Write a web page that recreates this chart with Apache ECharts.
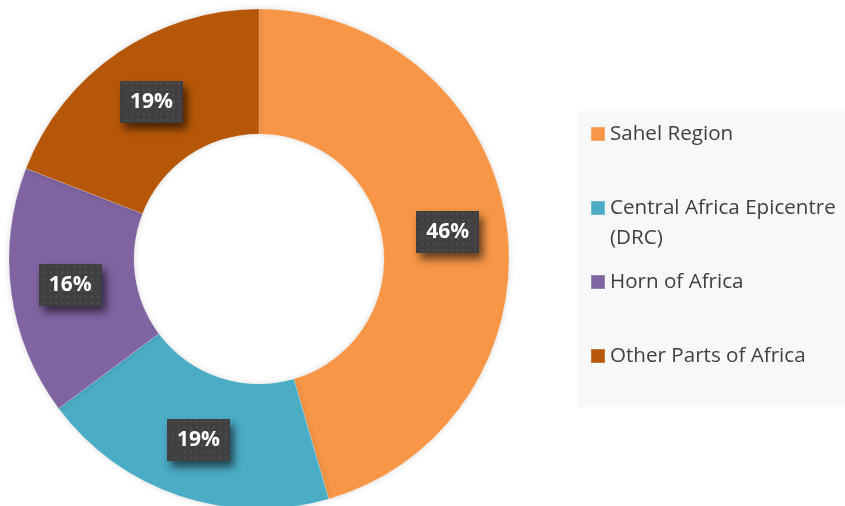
<!DOCTYPE html>
<html><head><meta charset="utf-8">
<script src="https://cdn.jsdelivr.net/npm/echarts@6/dist/echarts.min.js"></script>
<style>html,body{margin:0;padding:0;background:#fff}#c{width:845px;height:506px}</style>
</head><body><div id="c"></div>
<script>
const categories = ['Sahel Region', 'Central Africa Epicentre\n(DRC)', 'Horn of Africa', 'Other Parts of Africa'];
const values = [45.5, 19.3, 16.1, 19.1];
const colors = ['#F79646', '#4BACC6', '#8064A2', '#B65708'];

function makePattern() {
  const c = document.createElement('canvas');
  c.width = 64; c.height = 42;
  const g = c.getContext('2d');
  g.fillStyle = '#404040'; g.fillRect(0, 0, 64, 42);
  g.fillStyle = '#505050';
  for (let y = 2; y < 42; y += 6) for (let x = 2; x < 64; x += 6) g.fillRect(x + ((y / 6) % 2 ? 3 : 0), y, 2, 2);
  return c;
}
const pat = makePattern();

const chart = echarts.init(document.getElementById('c'), null, {renderer: 'canvas'});
const legendTops = [119, 193, 267, 341];
const legends = categories.map((name, i) => ({
  data: [name],
  orient: 'vertical',
  left: 590,
  top: legendTops[i],
  padding: 0,
  itemWidth: 14,
  itemHeight: i === 1 ? 44 : 14,
  icon: i === 1 ? 'path://M0,0H14V14H0Z M0,44L0.01,44' : 'rect',
  itemGap: 0,
  selectedMode: false,
  textStyle: {fontFamily: 'Open Sans', fontSize: 20.6, color: '#404040', lineHeight: 30}
}));

chart.setOption({
  animation: false,
  graphic: [{type: 'rect', left: 578, top: 111, shape: {width: 267, height: 296}, style: {fill: '#f8f8f8'}, z: -1}],
  legend: legends,
  series: [{
    type: 'pie',
    center: [259, 259],
    radius: [125, 250],
    startAngle: 90,
    clockwise: true,
    color: colors,
    itemStyle: {borderColor: 'rgba(255,255,255,0.2)', borderWidth: 1, shadowBlur: 6, shadowColor: 'rgba(0,0,0,0.15)'},
    emphasis: {disabled: true},
    label: {
      position: 'inside',
      formatter: p => Math.round(p.value) + '%',
      color: '#fff',
      fontFamily: 'Open Sans',
      fontWeight: 'bold',
      fontSize: 21,
      backgroundColor: {image: pat},
      padding: [11, 10, 10, 10],
      shadowBlur: 8,
      shadowOffsetX: 4,
      shadowOffsetY: 6,
      shadowColor: 'rgba(0,0,0,0.6)'
    },
    labelLine: {show: false},
    data: categories.map((n, i) => ({name: n, value: values[i]}))
  }]
});
</script></body></html>
